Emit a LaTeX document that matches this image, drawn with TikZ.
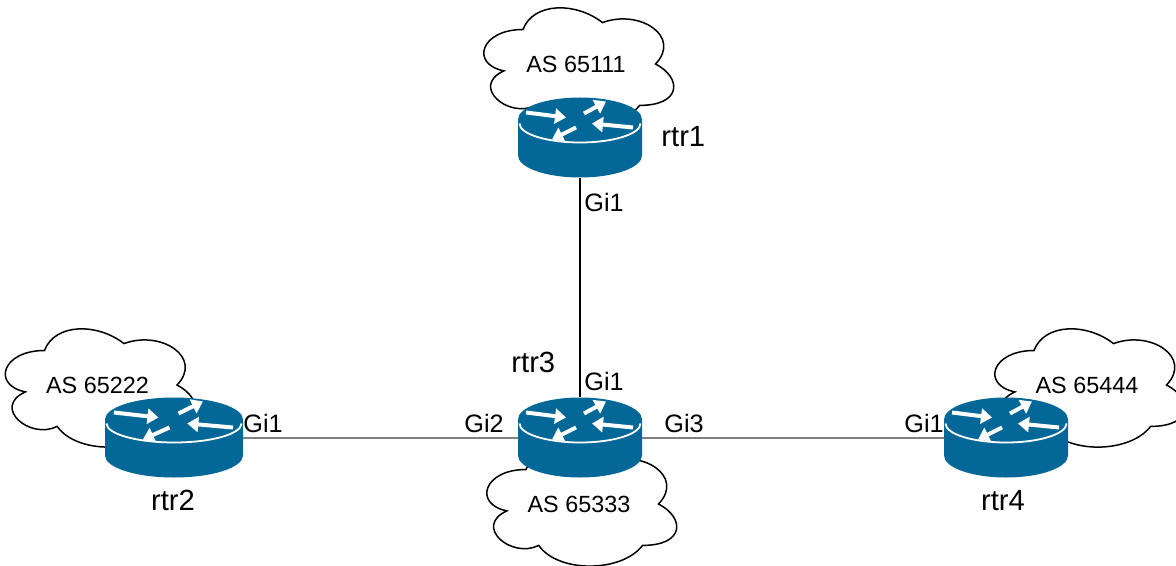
\documentclass[tikz,border=0pt]{standalone}
\usepackage{fontspec}
\setmainfont{Liberation Sans}
\usetikzlibrary{arrows.meta, calc}
\definecolor{rtrblue}{RGB}{3,104,151}
\definecolor{linkgray}{RGB}{128,128,128}
\tikzset{%
    rtrbox/.style={rectangle, inner sep=0pt, minimum height=40pt},
    rtrbody/.style={fill=rtrblue},
    rtrrim/.style={draw=white, line width=0.9pt},
    rtrarr/.style={draw=white, line width=2pt, -{Triangle[length=5.5pt, width=7.5pt]}},
    cld/.style={draw=black, fill=white, line width=0.75pt},
    cldtxt/.style={inner sep=0pt, font=\fontsize{11.7}{14}\selectfont},
    iftxt/.style={inner sep=0pt, anchor=base west, font=\fontsize{12.6}{15}\selectfont},
    rtrtxt/.style={inner sep=0pt, font=\fontsize{14.6}{17}\selectfont},
    linkh/.style={draw=linkgray, line width=1pt},
    linkv/.style={draw=black, line width=0.7pt},
}
% cloud round an AS label: name, cx, cy, text
\newcommand{\ascloud}[4]{%
    \begin{scope}[shift={(#2-106,#3-69)}, xscale=212, yscale=138]
        \draw[cld] (0.25,0.25) .. controls (0.05,0.25) and (0,0.5) .. (0.16,0.55)
            .. controls (0,0.66) and (0.18,0.9) .. (0.31,0.8)
            .. controls (0.4,1) and (0.7,1) .. (0.8,0.8)
            .. controls (1,0.8) and (1,0.6) .. (0.875,0.5)
            .. controls (1,0.3) and (0.8,0.1) .. (0.625,0.2)
            .. controls (0.5,0.05) and (0.3,0.05) .. cycle;
    \end{scope}
    \node[cldtxt] (#1) at (#2,#3) {#4};
}
% router icon: name, cx, cy, half width
\newcommand{\router}[4]{%
    \node[rtrbox, minimum width=#4pt] (#1) at (#2,#3) {};
    \fill[rtrbody] (#2-#4,#3-18) -- (#2-#4,#3+18)
        arc[start angle=180, end angle=360, x radius=#4*0.5pt, y radius=11pt]
        -- (#2+#4,#3-18)
        arc[start angle=0, end angle=180, x radius=#4*0.5pt, y radius=11pt] -- cycle;
    \draw[rtrrim] (#2-#4+1.5,#3-14)
        arc[start angle=180, end angle=360, x radius=#4*0.5pt-0.75pt, y radius=9.5pt];
    \begin{scope}[shift={(#2,#3-18)}, xscale=#4/62]
        \draw[rtrarr] (-54,-7) -- (-14,-2);
        \draw[rtrarr] (4,-6) -- (26,-18);
        \draw[rtrarr] (53,8) -- (12,4);
        \draw[rtrarr] (-4,8) -- (-28,20);
    \end{scope}
}

\begin{document}
\begin{tikzpicture}[x=0.5pt, y=-0.5pt]
    \useasboundingbox (0,0) rectangle (1176,566);
    % clouds
    \ascloud{as1}{576}{64}{AS 65111}
    \ascloud{as2}{97.5}{385}{AS 65222}
    \ascloud{as3}{579}{504}{AS 65333}
    \ascloud{as4}{1087}{385}{AS 65444}
    % routers
    \router{rtr1}{580}{137.5}{62}
    \router{rtr2}{174}{437.5}{69}
    \router{rtr3}{580}{437.5}{62}
    \router{rtr4}{1006}{437.5}{62}
    % links
    \draw[linkv] (rtr1) -- (rtr3);
    \draw[linkh] (rtr2) -- (rtr3);
    \draw[linkh] (rtr3) -- (rtr4);
    % interface labels
    \node[iftxt] (r1gi1) at (584,212) {Gi1};
    \node[iftxt] (r3gi1) at (584,390) {Gi1};
    \node[iftxt] (r3gi2) at (464,432) {Gi2};
    \node[iftxt] (r3gi3) at (664,432) {Gi3};
    \node[iftxt] (r2gi1) at (243,432) {Gi1};
    \node[iftxt] (r4gi1) at (904,432) {Gi1};
    % router names
    \node[rtrtxt, anchor=base west] (n1) at (661,147) {rtr1};
    \node[rtrtxt, anchor=base] (n2) at (173,510) {rtr2};
    \node[rtrtxt, anchor=base west] (n3) at (511,372) {rtr3};
    \node[rtrtxt, anchor=base] (n4) at (1003,510) {rtr4};
\end{tikzpicture}
\end{document}
